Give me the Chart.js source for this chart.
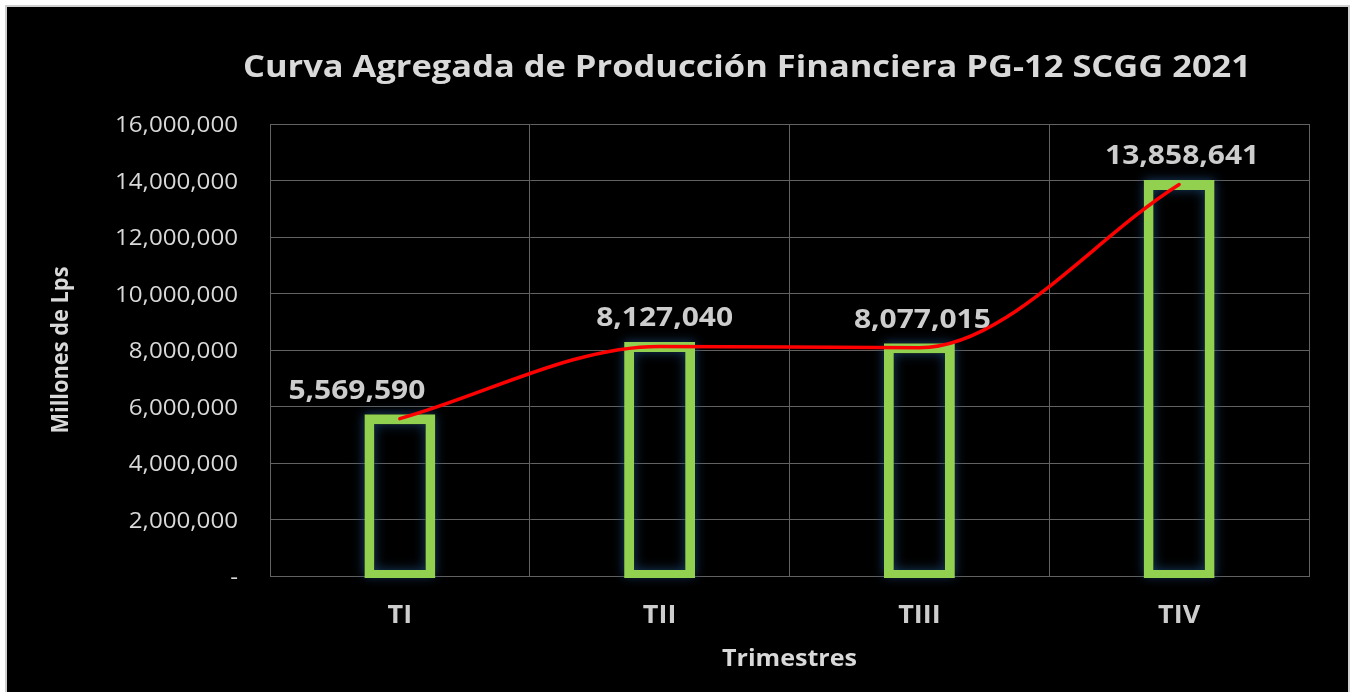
<!DOCTYPE html>
<html>
<head>
<meta charset="utf-8">
<script src="https://cdn.jsdelivr.net/npm/chart.js@4.4.1/dist/chart.umd.min.js"></script>
<style>
  html, body { margin: 0; padding: 0; background: #ffffff; }
  #wrap { position: relative; width: 1354px; height: 692px; }
</style>
</head>
<body>
<div id="wrap"><canvas id="c" width="1354" height="692"></canvas></div>
<script>
const chartTitle = 'Curva Agregada de Producción Financiera PG-12 SCGG 2021';
const yAxisTitle = 'Millones de Lps';
const xAxisTitle = 'Trimestres';
const categories = ['TI', 'TII', 'TIII', 'TIV'];
const values = [5569590, 8127040, 8077015, 13858641];
const yMin = 0;
const yMax = 16000000;
const yStep = 2000000;

const FONT = '"Open Sans", Lato, sans-serif';
const TEXT = '#d9d9d9';
const LABEL = '#cdcdcd';
const GRID = '#626262';

const fmt = v => v === 0 ? '-' : v.toLocaleString('en-US');

function fontStr(size, bold) { return (bold ? 'bold ' : '') + size + 'px ' + FONT; }
function fitScale(ctx, s, size, bold, targetW) {
  ctx.save(); ctx.font = fontStr(size, bold);
  const w = ctx.measureText(s).width; ctx.restore();
  return w > 0 ? targetW / w : 1;
}
function drawText(ctx, s, x, y, size, bold, align, sx, color, rot) {
  ctx.save();
  ctx.font = fontStr(size, bold);
  ctx.fillStyle = color;
  ctx.textAlign = align;
  ctx.textBaseline = 'alphabetic';
  ctx.translate(x, y);
  if (rot) ctx.rotate(rot);
  ctx.scale(sx, 1);
  ctx.fillText(s, 0, 0);
  ctx.restore();
}

const framePlugin = {
  id: 'frame',
  beforeDraw(chart) {
    const ctx = chart.ctx;
    ctx.save();
    ctx.fillStyle = '#ffffff';
    ctx.fillRect(0, 0, chart.width, chart.height);
    ctx.fillStyle = '#cfcfcf';
    ctx.fillRect(5, 5, 1345, 700);
    ctx.fillStyle = '#000000';
    ctx.fillRect(7, 7, 1341, 700);
    ctx.restore();
  },
  afterDraw(chart) {
    const ctx = chart.ctx;
    const area = chart.chartArea;
    drawText(ctx, chartTitle, 747, 77, 31, true, 'center',
      fitScale(ctx, chartTitle, 31, true, 1008), TEXT);
    drawText(ctx, xAxisTitle, (area.left + area.right) / 2, 666, 24, true, 'center',
      fitScale(ctx, xAxisTitle, 24, true, 135), TEXT);
    drawText(ctx, yAxisTitle, 68, (area.top + area.bottom) / 2, 24, true, 'center',
      fitScale(ctx, yAxisTitle, 24, true, 167), TEXT, -Math.PI / 2);
    const ys = chart.scales.y;
    const tsx = fitScale(ctx, fmt(yMax), 21, false, 123);
    ys.ticks.forEach((t, i) => {
      drawText(ctx, fmt(t.value), 238, ys.getPixelForTick(i) + 8, 21, false, 'right', tsx, TEXT);
    });
    const xs = chart.scales.x;
    xs.ticks.forEach((t, i) => {
      drawText(ctx, chart.data.labels[t.value], xs.getPixelForTick(i), 623, 25, true, 'center', 1.08, LABEL);
    });
  }
};

const glowPlugin = {
  id: 'glow',
  beforeDatasetDraw(chart, args) {
    if (args.meta.type !== 'bar') return;
    const ctx = chart.ctx;
    args.meta.data.forEach(el => {
      const p = el.getProps(['x', 'y', 'base', 'width'], true);
      const inf = el.options.inflateAmount;
      const l = p.x - p.width / 2 - inf, t = Math.min(p.y, p.base) - inf;
      const w = p.width + 2 * inf, h = Math.abs(p.base - p.y) + inf;
      ctx.save();
      ctx.beginPath();
      ctx.rect(0, 0, chart.width, chart.height);
      ctx.rect(l, t, w, h);
      ctx.clip('evenodd');
      ctx.shadowColor = 'rgba(30,70,115,0.9)';
      ctx.shadowBlur = 10;
      ctx.shadowOffsetX = 3000;
      ctx.fillStyle = '#000';
      ctx.fillRect(l - 3000, t, w, h);
      ctx.restore();
    });
  },
  afterDatasetDraw(chart, args) {
    if (args.meta.type !== 'bar') return;
    const ctx = chart.ctx;
    args.meta.data.forEach(el => {
      const p = el.getProps(['x', 'y', 'base', 'width'], true);
      const ins = el.options.borderWidth + el.options.inflateAmount;
      const l = p.x - p.width / 2 + ins, t = Math.min(p.y, p.base) + ins;
      const w = p.width - 2 * ins, h = Math.abs(p.base - p.y) - 2 * ins;
      ctx.save();
      ctx.beginPath();
      ctx.rect(l, t, w, h);
      ctx.clip();
      ctx.beginPath();
      ctx.rect(l - 200, t - 200, w + 400, h + 400);
      ctx.rect(l, t, w, h);
      ctx.shadowColor = 'rgba(25,65,105,0.9)';
      ctx.shadowBlur = 12;
      ctx.fillStyle = '#000';
      ctx.fill('evenodd');
      ctx.restore();
    });
  }
};

const labelPlugin = {
  id: 'barLabels',
  afterDatasetsDraw(chart, args, opts) {
    const meta = chart.getDatasetMeta(0);
    const ctx = chart.ctx;
    const data = chart.data.datasets[0].data;
    const sx = fitScale(ctx, fmt(data[0]), 27, true, 137);
    meta.data.forEach((el, i) => {
      const dx = (opts.dx && opts.dx[i]) || 0;
      drawText(ctx, fmt(data[i]), el.x + dx, el.y - 20, 27, true, 'center', sx, LABEL);
    });
  }
};

new Chart(document.getElementById('c'), {
  data: {
    labels: categories,
    datasets: [
      {
        type: 'bar',
        data: values,
        order: 1,
        backgroundColor: 'rgba(0,0,0,0)',
        borderColor: '#92d050',
        borderWidth: 1,
        inflateAmount: 4.5,
        borderSkipped: false,
        barThickness: 62,
        clip: { left: false, right: false, top: false, bottom: 2 }
      },
      {
        type: 'line',
        data: values,
        order: 0,
        borderColor: '#ff0000',
        borderWidth: 3.5,
        borderCapStyle: 'round',
        cubicInterpolationMode: 'monotone',
        pointRadius: 0,
        fill: false
      }
    ]
  },
  options: {
    responsive: false,
    animation: false,
    devicePixelRatio: 1,
    layout: { padding: { top: 124, right: 45, left: 0, bottom: 0 } },
    plugins: {
      legend: { display: false },
      title: { display: false },
      tooltip: { enabled: false },
      barLabels: { dx: [-43, 5, 3, 3] }
    },
    scales: {
      x: {
        offset: true,
        grid: { color: GRID, lineWidth: 1, drawTicks: false, offset: true },
        border: { color: GRID },
        ticks: { display: false },
        afterFit(s) { s.height = 692 - 576; }
      },
      y: {
        min: yMin,
        max: yMax,
        grid: { color: GRID, lineWidth: 1, drawTicks: false },
        border: { color: GRID },
        ticks: { display: false, stepSize: yStep },
        afterFit(s) { s.width = 270; }
      }
    }
  },
  plugins: [framePlugin, glowPlugin, labelPlugin]
});
</script>
</body>
</html>
